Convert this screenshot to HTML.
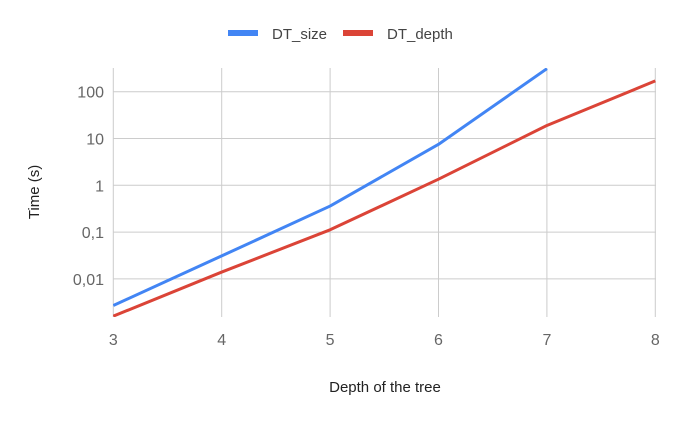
<!DOCTYPE html>
<html><head><meta charset="utf-8"><style>
body{margin:0;background:#fff;font-family:"Liberation Sans",Roboto,sans-serif}
svg text{font-family:"Liberation Sans",sans-serif}
</style></head><body>
<svg id="chart" width="677" height="419" xmlns="http://www.w3.org/2000/svg">
<defs><clipPath id="clip"><rect x="113" y="68" width="543" height="249"/></clipPath></defs>
<g id="grid"></g>
<g id="series" clip-path="url(#clip)"></g>
<g id="labels"></g>
<g>
<g><rect x="228" y="30" width="30" height="6" fill="#4285f4"/><text x="272" y="39" font-size="15" fill="#444">DT_size</text></g>
<g><rect x="343" y="30" width="30" height="6" fill="#db4437"/><text x="387" y="39" font-size="15" fill="#444">DT_depth</text></g>
</g>
<text x="385" y="392" text-anchor="middle" font-size="15" fill="#222">Depth of the tree</text>
<text x="39" y="192" text-anchor="middle" font-size="15" fill="#222" transform="rotate(-90 39 192)">Time (s)</text>
</svg>
<script>
const xCats=[3,4,5,6,7,8];
const dtSizeX=[3,4,5,6,7];
const dtSize=[0.0027,0.031,0.36,7.5,310];
const dtDepthX=[3,4,5,6,7,8];
const dtDepth=[0.0016,0.014,0.112,1.35,19,170];
const yTicks=[100,10,1,0.1,0.01];
const yTickLabels=["100","10","1","0,1","0,01"];
const NS="http://www.w3.org/2000/svg";
function xs(v){return 113.3+(v-3)*108.4;}
function ys(v){return 185.3-Math.log10(v)*46.8;}
const grid=document.getElementById('grid'),lab=document.getElementById('labels'),ser=document.getElementById('series');
function mk(tag,attrs,parent){const e=document.createElementNS(NS,tag);for(const k in attrs)e.setAttribute(k,attrs[k]);parent.appendChild(e);return e;}
xCats.forEach(c=>{
  const l=mk('line',{x1:xs(c),x2:xs(c),y1:68,y2:317,stroke:'#ccc','stroke-width':1},grid);
  
  
  const t=mk('text',{x:xs(c),y:345,'text-anchor':'middle','font-size':16,fill:'#666'},lab);
  t.textContent=c;
  
  
});
yTicks.forEach((v,i)=>{
  const l=mk('line',{x1:113,x2:656,y1:ys(v),y2:ys(v),stroke:'#ccc','stroke-width':1},grid);
  
  
  const t=mk('text',{x:104,y:ys(v)+6,'text-anchor':'end','font-size':16,fill:'#666'},lab);
  t.textContent=yTickLabels[i];
  
  
});
function line(xv,yv,color,name){
  const p=mk('polyline',{points:xv.map((x,i)=>xs(x)+','+ys(yv[i])).join(' '),fill:'none',stroke:color,'stroke-width':3,'stroke-linejoin':'round'},ser);
  
  
}
line(dtDepthX,dtDepth,'#db4437','dt-depth-line');
line(dtSizeX,dtSize,'#4285f4','dt-size-line');
</script>
</body></html>
